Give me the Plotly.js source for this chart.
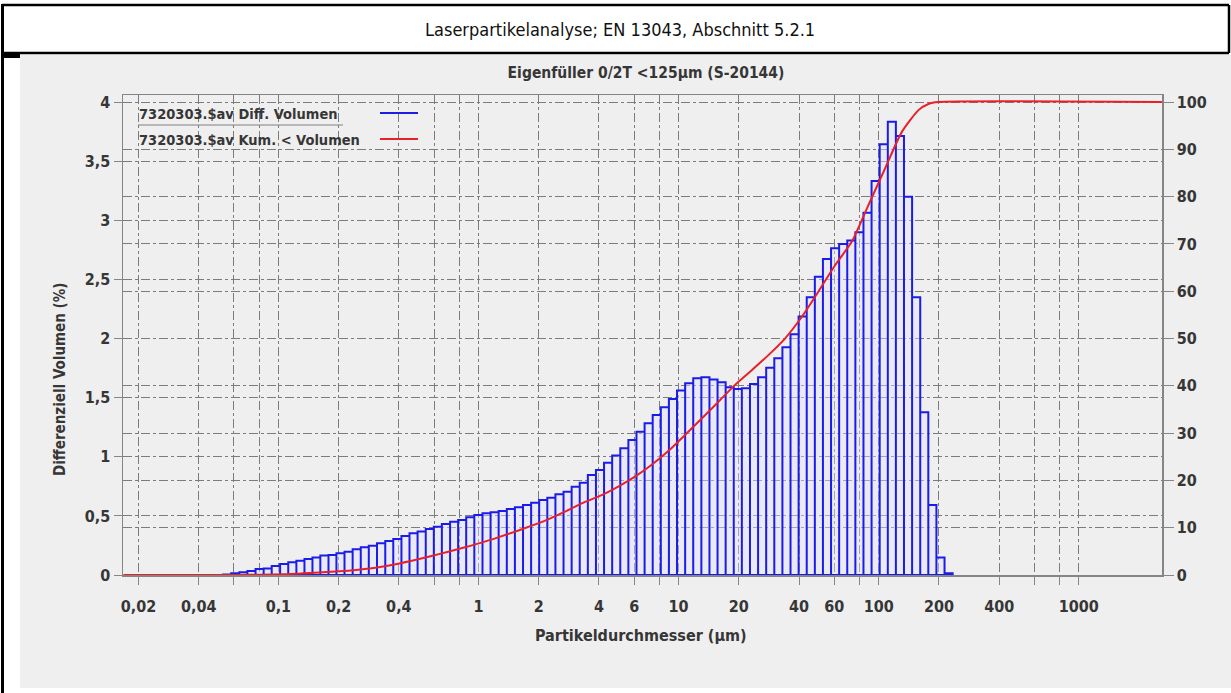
<!DOCTYPE html>
<html>
<head>
<meta charset="utf-8">
<script src="https://cdn.plot.ly/plotly-3.0.1.min.js"></script>
<style>
html,body{margin:0;padding:0;background:#ffffff;}
#chart{width:1231px;height:693px;}
</style>
</head>
<body>
<div id="chart"></div>
<script>
// ---- data ----
// bin edges (µm) of the size classes that carry volume
const binEdges = [0.0529, 0.0581, 0.0638, 0.0700, 0.0769, 0.0844, 0.0926, 0.102, 0.112, 0.123,
  0.135, 0.148, 0.162, 0.178, 0.195, 0.214, 0.235, 0.258, 0.283, 0.311,
  0.342, 0.375, 0.412, 0.452, 0.496, 0.545, 0.598, 0.656, 0.721, 0.791,
  0.868, 0.953, 1.047, 1.149, 1.261, 1.385, 1.520, 1.669, 1.832, 2.010,
  2.207, 2.423, 2.660, 2.920, 3.205, 3.519, 3.863, 4.240, 4.655, 5.110,
  5.610, 6.158, 6.760, 7.421, 8.147, 8.943, 9.817, 10.78, 11.83, 12.99,
  14.26, 15.65, 17.18, 18.86, 20.70, 22.73, 24.95, 27.39, 30.07, 33.01,
  36.24, 39.78, 43.67, 47.94, 52.62, 57.77, 63.41, 69.61, 76.42, 83.89,
  92.09, 101.1, 111.0, 121.8, 133.7, 146.8, 161.2, 176.9, 194.2, 213.2, 234.1];
// differential volume (%) per class
const diffVolume = [0.005, 0.014, 0.023, 0.034, 0.051, 0.056, 0.076, 0.093, 0.107, 0.121,
  0.135, 0.149, 0.164, 0.169, 0.183, 0.197, 0.217, 0.234, 0.248, 0.268,
  0.288, 0.305, 0.330, 0.353, 0.367, 0.389, 0.409, 0.431, 0.451, 0.465,
  0.488, 0.508, 0.522, 0.530, 0.541, 0.558, 0.573, 0.592, 0.612, 0.635,
  0.654, 0.683, 0.705, 0.747, 0.781, 0.846, 0.888, 0.950, 1.010, 1.072,
  1.142, 1.213, 1.283, 1.354, 1.419, 1.489, 1.560, 1.622, 1.664, 1.672,
  1.655, 1.630, 1.588, 1.574, 1.579, 1.616, 1.672, 1.754, 1.833, 1.926,
  2.036, 2.186, 2.349, 2.524, 2.673, 2.764, 2.800, 2.829, 2.899, 3.065,
  3.333, 3.644, 3.835, 3.714, 3.201, 2.349, 1.376, 0.592, 0.147, 0.014];
// cumulative volume curve (%)
const cumSize = [0.0168, 0.0529, 0.07, 0.1036, 0.152, 0.223, 0.270, 0.328, 0.397, 0.481,
  0.583, 0.706, 0.855, 1.036, 1.254, 1.521, 1.843, 2.231, 2.704, 3.278,
  4.13, 4.99, 6.05, 7.34, 8.88, 10.76, 13.05, 15.79, 19.14, 23.2,
  28.1, 34.0, 41.3, 49.9, 60.5, 73.4, 88.8, 107.6, 130.5, 158,
  177.2, 198.9, 2600];
const cumVolume = [0, 0, 0.03, 0.14, 0.49, 0.92, 1.27, 1.76, 2.40, 3.17,
  4.02, 4.93, 5.85, 6.84, 7.96, 9.16, 10.43, 11.77, 13.39, 15.15,
  16.9, 18.7, 20.8, 23.3, 26.2, 29.6, 33.1, 36.6, 40.2, 43.3,
  46.5, 50.0, 54.6, 59.9, 65.5, 70.5, 78.2, 86.0, 93.7, 98.3,
  99.6, 100, 100];
// x tick values and labels
const xTickVals = [0.02, 0.04, 0.06, 0.08, 0.1, 0.2, 0.4, 0.6, 0.8, 1, 2, 4, 6, 8, 10, 20, 40, 60, 80, 100, 200, 400, 600, 800, 1000];
const xTickText = ['0,02', '0,04', '', '', '0,1', '0,2', '0,4', '', '', '1', '2', '4', '6', '', '10', '20', '40', '60', '', '100', '200', '400', '', '', '1000'];
const legendNames = ['7320303.$av Diff. Volumen', '7320303.$av Kum. < Volumen'];

// ---- build the histogram outline from the bins ----
const histX = [], histY = [];
for (let i = 0; i < diffVolume.length; i++) {
  histX.push(binEdges[i], binEdges[i], binEdges[i + 1], binEdges[i + 1]);
  histY.push(0, diffVolume[i], diffVolume[i], 0);
}
histX.push(binEdges[0]); histY.push(0);

const FONT = '"DejaVu Sans Condensed", "Liberation Sans Narrow", sans-serif';
const TXT = '#363636';
const GRID = '#7c7c7c';
const AX = '#858585';

// pixel helpers for decoration placement (paper coordinates)
const L = 123, R = 69, T = 95, B = 118, W = 1231, H = 693;
const pw = W - L - R, ph = H - T - B;
const px = v => (v - L) / pw;
const py = v => (H - B - v) / ph;

const traces = [
  {
    x: histX, y: histY, type: 'scatter', mode: 'lines', name: legendNames[0],
    fill: 'toself', fillcolor: 'rgba(228,228,255,0.40)',
    line: {color: '#1c1ce8', width: 2}, hoverinfo: 'skip', yaxis: 'y'
  },
  {
    x: cumSize, y: cumVolume, type: 'scatter', mode: 'lines', name: legendNames[1],
    line: {color: '#e8202a', width: 2, shape: 'spline', smoothing: 0.6},
    yaxis: 'y2'
  }
];

const layout = {
  width: W, height: H,
  margin: {l: L, r: R, t: T, b: B, pad: 0},
  paper_bgcolor: '#ffffff',
  plot_bgcolor: '#efefef',
  separators: ',.',
  showlegend: false,
  font: {family: FONT, color: TXT, size: 15},
  title: {
    text: 'Eigenfüller 0/2T <125µm (S-20144)',
    x: 646 / W, xanchor: 'center', y: 1 - 73 / H, yanchor: 'middle',
    font: {family: FONT, size: 15.5, color: TXT, weight: 'bold'}
  },
  xaxis: {
    type: 'log', range: [-1.7765, 3.4155], autorange: false,
    tickmode: 'array', tickvals: xTickVals, ticktext: xTickText,
    ticks: 'outside', ticklen: 8, tickwidth: 1, tickcolor: AX,
    tickfont: {family: FONT, size: 16, color: TXT, weight: 'bold'},
    ticklabelstandoff: 8,
    showgrid: true, gridcolor: GRID, griddash: 'dashdot', gridwidth: 1,
    showline: true, linecolor: AX, linewidth: 1.5, mirror: true,
    zeroline: false, automargin: false
  },
  yaxis: {
    range: [0, 4.061], autorange: false, dtick: 0.5, tick0: 0,
    ticks: 'outside', ticklen: 8, tickwidth: 1, tickcolor: AX,
    tickfont: {family: FONT, size: 16, color: TXT, weight: 'bold'},
    showgrid: true, gridcolor: GRID, griddash: 'dashdot', gridwidth: 1,
    showline: true, linecolor: AX, linewidth: 1.5,
    zeroline: false, automargin: false
  },
  yaxis2: {
    overlaying: 'y', side: 'right', range: [0, 101.5], autorange: false,
    dtick: 10, tick0: 0,
    ticks: 'outside', ticklen: 10, tickwidth: 1, tickcolor: AX,
    tickfont: {family: FONT, size: 16, color: TXT, weight: 'bold'},
    showgrid: true, gridcolor: GRID, griddash: 'dashdot', gridwidth: 1,
    showline: true, linecolor: AX, linewidth: 1.5,
    zeroline: false, automargin: false
  },
  shapes: [
    // grey panel
    {type: 'rect', xref: 'paper', yref: 'paper', x0: px(20), x1: px(1235), y0: py(688), y1: py(55),
     fillcolor: '#efefef', line: {width: 0}, layer: 'below'},
    // header frame
    {type: 'line', xref: 'paper', yref: 'paper', x0: px(2), x1: px(1229), y0: py(5), y1: py(5), line: {color: '#000', width: 2.5}},
    {type: 'line', xref: 'paper', yref: 'paper', x0: px(1229), x1: px(1229), y0: py(5), y1: py(53), line: {color: '#000', width: 2.5}},
    {type: 'line', xref: 'paper', yref: 'paper', x0: px(2), x1: px(1229), y0: py(53), y1: py(53), line: {color: '#000', width: 2.5}},
    {type: 'line', xref: 'paper', yref: 'paper', x0: px(2.5), x1: px(2.5), y0: py(4), y1: py(700), line: {color: '#000', width: 3}},
    {type: 'rect', xref: 'paper', yref: 'paper', x0: px(2), x1: px(20), y0: py(58), y1: py(52), fillcolor: '#000', line: {width: 0}},
    // legend samples
    {type: 'line', xref: 'paper', yref: 'paper', x0: px(138), x1: px(343), y0: py(125), y1: py(125), line: {color: '#808080', width: 1}},
    {type: 'line', xref: 'paper', yref: 'paper', x0: px(380), x1: px(418), y0: py(113), y1: py(113), line: {color: '#1c1ce8', width: 2}},
    {type: 'line', xref: 'paper', yref: 'paper', x0: px(380), x1: px(418), y0: py(139), y1: py(139), line: {color: '#e8202a', width: 2}}
  ],
  annotations: [
    {text: 'Laserpartikelanalyse; EN 13043, Abschnitt 5.2.1', xref: 'paper', yref: 'paper',
     x: px(620), y: py(29), xanchor: 'center', yanchor: 'middle', showarrow: false,
     font: {family: FONT, size: 18, color: '#111'}},
    {text: 'Partikeldurchmesser (µm)', xref: 'paper', yref: 'paper',
     x: px(641), y: py(635), xanchor: 'center', yanchor: 'middle', showarrow: false,
     font: {family: FONT, size: 16, color: TXT, weight: 'bold'}},
    {text: 'Differenziell Volumen (%)', xref: 'paper', yref: 'paper', textangle: -90,
     x: px(60), y: py(380), xanchor: 'center', yanchor: 'middle', showarrow: false,
     font: {family: FONT, size: 15, color: TXT, weight: 'bold'}},
    {text: legendNames[0], xref: 'paper', yref: 'paper', x: px(137), y: py(114),
     xanchor: 'left', yanchor: 'middle', showarrow: false,
     font: {family: FONT, size: 14.5, color: TXT, weight: 'bold'}},
    {text: legendNames[1], xref: 'paper', yref: 'paper', x: px(137), y: py(140),
     xanchor: 'left', yanchor: 'middle', showarrow: false,
     font: {family: FONT, size: 14.5, color: TXT, weight: 'bold'}}
  ]
};

Plotly.newPlot('chart', traces, layout, {displayModeBar: false, staticPlot: true});
</script>
</body>
</html>
